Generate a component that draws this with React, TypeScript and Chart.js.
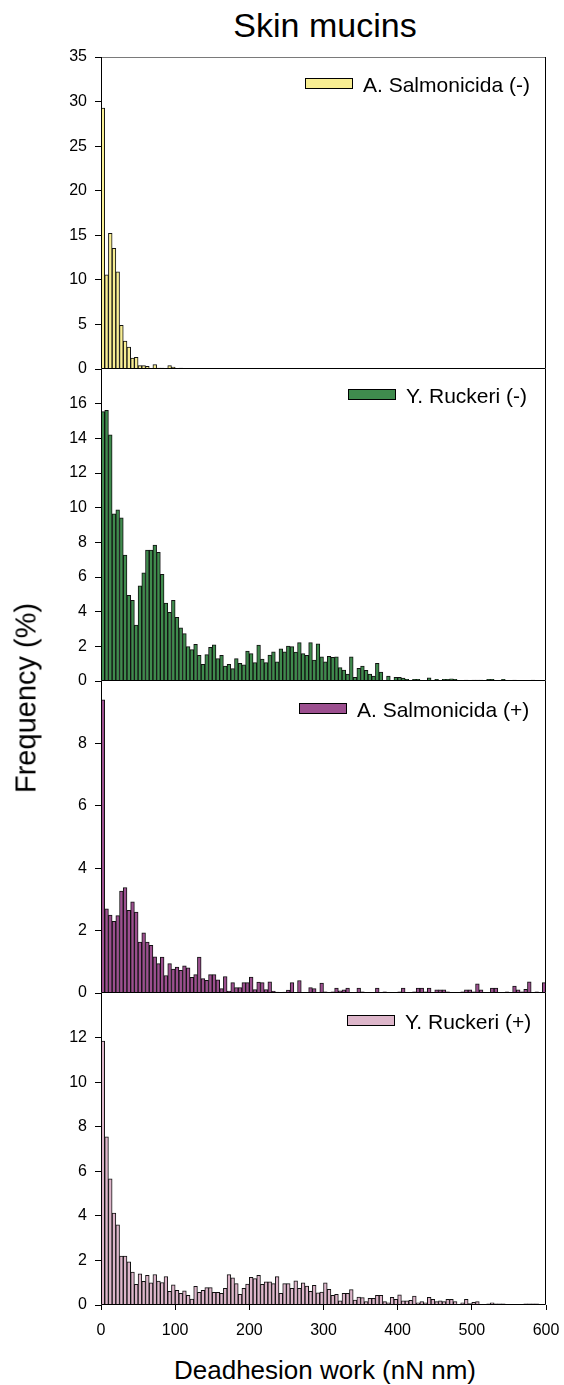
import React, { useEffect, useRef } from "react";
import { Chart, registerables } from "chart.js";

Chart.register(...registerables);

// ---------- data ----------
const BIN_WIDTH = 5;
const BIN_COUNT = 120;
// histogram bin centres (0-5, 5-10, ... 595-600)
const binCenters = Array.from({ length: BIN_COUNT }, (_, i) => i * BIN_WIDTH + BIN_WIDTH / 2);
const xTickValues = [0, 100, 200, 300, 400, 500, 600];

const seriesLabels = ["A. Salmonicida (-)", "Y. Ruckeri (-)", "A. Salmonicida (+)", "Y. Ruckeri (+)"];

const aSalmonicidaNeg = [
  29.26, 10.55, 15.23, 13.54, 10.89, 4.9, 3.14, 2.47, 1.23, 1.31,
  0.37, 0.37, 0.3, 0, 0.49, 0.11, 0.11, 0, 0.37, 0.22,
  0, 0.11, 0, 0, 0, 0, 0, 0, 0, 0,
  0, 0, 0, 0, 0, 0, 0, 0, 0, 0,
  0, 0, 0, 0, 0, 0, 0, 0, 0, 0,
  0, 0, 0, 0, 0, 0, 0, 0, 0, 0,
  0, 0, 0, 0, 0, 0, 0, 0, 0, 0,
  0, 0, 0, 0, 0, 0, 0, 0, 0, 0,
  0, 0, 0, 0, 0, 0, 0, 0, 0, 0,
  0, 0, 0, 0, 0, 0, 0, 0, 0, 0,
  0, 0, 0, 0, 0, 0, 0, 0, 0, 0,
  0, 0, 0, 0, 0, 0, 0, 0, 0, 0,
];

const yRuckeriNeg = [
  15.54, 15.62, 14.2, 9.64, 9.88, 9.41, 7.26, 4.94, 4.65, 3.23,
  5.49, 6.24, 7.55, 7.55, 7.84, 7.42, 6.15, 4.5, 3.96, 4.65,
  3.67, 3.07, 2.73, 1.98, 1.81, 2.11, 1.48, 0.96, 1.52, 1.94,
  2.09, 1.29, 1.48, 0.86, 0.96, 0.71, 1.29, 1.02, 0.94, 1.73,
  1.58, 1.06, 2.07, 1.27, 1.06, 1.5, 1.69, 1.1, 1.86, 1.69,
  2.02, 1.98, 1.67, 2.21, 1.58, 1.48, 2.21, 1.21, 2.15, 1.4,
  1.1, 1.42, 1.36, 1.4, 0.77, 0.63, 0.4, 1.4, 0.21, 0.73,
  0.86, 0.61, 0.4, 0.29, 1.02, 0.52, 0, 0.29, 0, 0.21,
  0.21, 0.17, 0.1, 0, 0.1, 0.1, 0, 0, 0.19, 0,
  0.1, 0, 0.1, 0.1, 0.13, 0.1, 0, 0, 0.05, 0,
  0.06, 0.05, 0.05, 0, 0.1, 0.1, 0, 0, 0.1, 0,
  0, 0.05, 0, 0, 0, 0, 0.05, 0, 0, 0,
];

const aSalmonicidaPos = [
  9.4, 2.7, 2.5, 2.3, 2.48, 3.27, 3.38, 2.65, 2.92, 2.59,
  1.63, 1.93, 1.63, 1.53, 1.16, 0.94, 1.15, 0.56, 0.94, 0.77,
  0.83, 0.73, 0.87, 0.81, 0.5, 0.59, 1.15, 0.46, 0.41, 0.59,
  0.59, 0.42, 0.14, 0.53, 0.06, 0.33, 0.17, 0.17, 0.33, 0.33,
  0.51, 0.11, 0.35, 0.33, 0.11, 0.36, 0.06, 0.03, 0, 0.03,
  0.09, 0.33, 0, 0.4, 0, 0, 0.17, 0.14, 0, 0.32,
  0.04, 0, 0.04, 0.16, 0.07, 0.1, 0.16, 0, 0, 0.16,
  0.04, 0, 0, 0, 0.16, 0, 0.04, 0, 0, 0,
  0.04, 0.16, 0, 0, 0.04, 0.16, 0.16, 0.04, 0.16, 0,
  0.1, 0.1, 0.1, 0.04, 0, 0, 0, 0.04, 0.1, 0.1,
  0.04, 0.29, 0.1, 0, 0, 0.16, 0.16, 0, 0, 0.04,
  0, 0.22, 0.1, 0.04, 0.12, 0.36, 0, 0.04, 0, 0.33,
];

const yRuckeriPos = [
  11.84, 7.55, 5.66, 4.13, 3.6, 2.19, 2.19, 1.94, 1.48, 0.93,
  1.4, 1.06, 1.33, 0.99, 1.37, 1.07, 1.01, 1.28, 0.61, 0.91,
  0.66, 0.52, 0.64, 0.43, 0.27, 0.84, 0.57, 0.66, 0.78, 0.78,
  0.57, 0.57, 0.52, 0.75, 1.36, 1.22, 0.96, 0.48, 0.75, 0.94,
  1.24, 1.18, 1.33, 0.93, 1.04, 1.04, 0.96, 1.27, 0.52, 0.96,
  0.96, 0.75, 1.09, 0.75, 1.0, 0.85, 0.61, 0.88, 0.55, 0.58,
  1.0, 0.7, 0.43, 0.48, 0.19, 0.52, 0.52, 0.69, 0.22, 0.36,
  0.33, 0.15, 0.3, 0.3, 0.43, 0.43, 0.15, 0.1, 0.34, 0.25,
  0.46, 0.19, 0.19, 0.21, 0.4, 0.1, 0.15, 0.1, 0.34, 0.25,
  0.15, 0.19, 0.15, 0.25, 0.25, 0.15, 0, 0.1, 0.25, 0.06,
  0.12, 0.15, 0, 0, 0.05, 0.1, 0.05, 0.05, 0.05, 0,
  0, 0, 0, 0, 0.05, 0.05, 0.05, 0.05, 0, 0,
];

const seriesValues = [aSalmonicidaNeg, yRuckeriNeg, aSalmonicidaPos, yRuckeriPos];
const yMaxima = [35, 18, 10, 14];
const ySteps = [5, 2, 2, 2];

// ---------- style / layout ----------
const FONT = "'Liberation Sans', Arial, Helvetica, sans-serif";
const fillColors = ["#F8EE93", "#3F8B4D", "#9C4F8F", "#DDB6CA"];
const panelTops = [57, 369, 681, 993];
const panelBottoms = [369, 681, 993, 1305];
const legendBoxLeft = [305, 348, 299, 347];
const legendBoxDy = [21, 20, 22, 22];
const PAD = 12;
const X_AXIS_H = 40;

const framePlugin = {
  id: "panelFrame",
  afterDraw(chart: any, _a: any, opts: any) {
    const { ctx, chartArea } = chart;
    const l = Math.round(chartArea.left) + 0.5;
    const r = Math.round(chartArea.right) - 0.5;
    const t = Math.round(chartArea.top) + 0.5;
    const b = Math.round(chartArea.bottom) - 0.5;
    ctx.save();
    ctx.lineWidth = 1;
    if (opts.drawTop) {
      ctx.strokeStyle = opts.topColor || "#000";
      ctx.beginPath();
      ctx.moveTo(l, t);
      ctx.lineTo(r, t);
      ctx.stroke();
    }
    ctx.strokeStyle = "#000";
    ctx.beginPath();
    ctx.moveTo(r, t - 0.5);
    ctx.lineTo(r, b);
    ctx.lineTo(l, b);
    ctx.lineTo(l, t - 0.5);
    ctx.stroke();
    ctx.restore();
  },
};

const legendPlugin = {
  id: "panelLegend",
  afterDraw(chart: any, _a: any, opts: any) {
    if (!opts || !opts.text) return;
    const { ctx, chartArea } = chart;
    const bx = opts.boxLeft;
    const by = Math.round(chartArea.top + opts.dy);
    ctx.save();
    ctx.fillStyle = opts.fill;
    ctx.fillRect(bx, by, 48, 11);
    ctx.strokeStyle = "#000";
    ctx.lineWidth = 1;
    ctx.strokeRect(bx + 0.5, by + 0.5, 47, 10);
    ctx.font = `21px ${FONT}`;
    ctx.fillStyle = "#000";
    ctx.textAlign = "left";
    ctx.textBaseline = "alphabetic";
    ctx.fillText(opts.text, bx + 58, by + 13.5);
    ctx.restore();
  },
};

function makeConfig(i: number) {
  const isBottom = i === 3;
  const yMax = yMaxima[i];
  const values = seriesValues[i];
  return {
    type: "bar" as const,
    data: {
      datasets: [
        {
          label: seriesLabels[i],
          data: binCenters.map((x, k) => ({ x, y: values[k] })),
          backgroundColor: fillColors[i],
          borderColor: "#111",
          borderWidth: 1,
          barPercentage: 1,
          categoryPercentage: 1,
        },
      ],
    },
    options: {
      responsive: false,
      maintainAspectRatio: false,
      animation: false as const,
      devicePixelRatio: 1,
      layout: { padding: { left: 0, right: 18, top: PAD, bottom: isBottom ? 0 : PAD } },
      plugins: {
        legend: { display: false },
        tooltip: { enabled: false },
        title: { display: false },
        panelLegend: {
          text: seriesLabels[i],
          fill: fillColors[i],
          boxLeft: legendBoxLeft[i],
          dy: legendBoxDy[i],
        },
        panelFrame: { drawTop: i === 0, topColor: "#7a7a7a" },
      },
      scales: {
        x: {
          type: "linear" as const,
          min: 0,
          max: 600,
          offset: false,
          display: isBottom,
          afterBuildTicks: (scale: any) => {
            scale.ticks = xTickValues.map((v) => ({ value: v }));
          },
          afterFit: (scale: any) => {
            scale.height = isBottom ? X_AXIS_H : 0;
            scale.paddingLeft = 0;
            scale.paddingRight = 0;
          },
          ticks: {
            font: { family: FONT, size: 16 },
            color: "#000",
            padding: 11,
            maxRotation: 0,
            autoSkip: false,
          },
          grid: {
            display: true,
            offset: false,
            drawOnChartArea: false,
            drawTicks: true,
            tickLength: 5,
            color: "#000",
          },
          border: { display: false },
        },
        y: {
          type: "linear" as const,
          min: 0,
          max: yMax,
          afterFit: (scale: any) => {
            scale.width = 101;
            scale.paddingTop = 0;
            scale.paddingBottom = 0;
          },
          ticks: {
            stepSize: ySteps[i],
            font: { family: FONT, size: 16 },
            color: "#000",
            padding: 8,
            callback: (v: any) => (v === yMax && i !== 0 ? "" : String(v)),
          },
          grid: {
            display: true,
            drawOnChartArea: false,
            drawTicks: true,
            tickLength: 6,
            color: "#000",
          },
          border: { display: false },
        },
      },
    },
    plugins: [framePlugin, legendPlugin],
  };
}

export default function App() {
  const refs = [useRef<HTMLCanvasElement>(null), useRef<HTMLCanvasElement>(null), useRef<HTMLCanvasElement>(null), useRef<HTMLCanvasElement>(null)];

  useEffect(() => {
    const charts: Chart[] = [];
    refs.forEach((r, i) => {
      if (r.current) charts.push(new Chart(r.current, makeConfig(i) as any));
    });
    return () => charts.forEach((c) => c.destroy());
  }, []);

  return (
    <div style={{ position: "absolute", left: 0, top: 0, width: 564, height: 1385, background: "#fff", fontFamily: FONT }}>
      <div
        style={{
          position: "absolute",
          left: 325,
          top: 8,
          transform: "translateX(-50%)",
          fontSize: 34,
          lineHeight: "34px",
          whiteSpace: "nowrap",
          color: "#000",
        }}
      >
        Skin mucins
      </div>
      {refs.map((r, i) => {
        const isBottom = i === 3;
        const h = panelBottoms[i] - panelTops[i] + PAD + (isBottom ? X_AXIS_H : PAD);
        return (
          <canvas
            key={i}
            ref={r}
            width={564}
            height={h}
            style={{ position: "absolute", left: 0, top: panelTops[i] - PAD, width: 564, height: h }}
          />
        );
      })}
      <div
        style={{
          position: "absolute",
          left: 26,
          top: 698,
          transform: "translate(-50%, -50%) rotate(-90deg)",
          fontSize: 29,
          lineHeight: "29px",
          whiteSpace: "nowrap",
          color: "#000",
        }}
      >
        Frequency (%)
      </div>
      <div
        style={{
          position: "absolute",
          left: 325,
          top: 1357,
          transform: "translateX(-50%)",
          fontSize: 26,
          lineHeight: "26px",
          whiteSpace: "nowrap",
          color: "#000",
        }}
      >
        Deadhesion work (nN nm)
      </div>
    </div>
  );
}
